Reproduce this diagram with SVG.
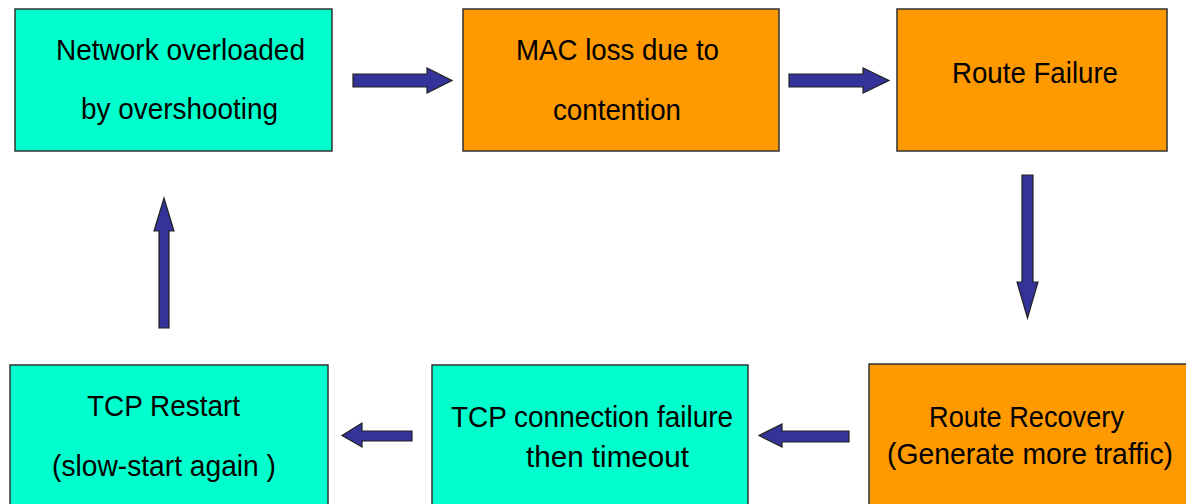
<svg xmlns="http://www.w3.org/2000/svg" width="1186" height="504" viewBox="0 0 1186 504">
<style>
.box{stroke:#333;stroke-width:1.5}
.cyan{fill:#00ffcc}
.orange{fill:#ff9900}
.t{font-family:"Liberation Sans",Arial,sans-serif;font-size:30px;fill:#000}
.arr{fill:#333399;stroke:#222;stroke-width:1.2;stroke-linejoin:miter}
</style>
<rect width="1186" height="504" fill="#fff"/>
<g id="n1">
<rect class="box cyan" x="15" y="9" width="317" height="142"/>
<text class="t" x="56" y="60" textLength="249" lengthAdjust="spacingAndGlyphs">Network overloaded</text>
<text class="t" x="81" y="119" textLength="197" lengthAdjust="spacingAndGlyphs">by overshooting</text>
</g>
<g id="n2">
<rect class="box orange" x="463" y="9" width="316" height="142"/>
<text class="t" x="516" y="60" textLength="203" lengthAdjust="spacingAndGlyphs">MAC loss due to</text>
<text class="t" x="553" y="120" textLength="128" lengthAdjust="spacingAndGlyphs">contention</text>
</g>
<g id="n3">
<rect class="box orange" x="897" y="9" width="270" height="142"/>
<text class="t" x="952" y="83" textLength="166" lengthAdjust="spacingAndGlyphs">Route Failure</text>
</g>
<g id="n4">
<rect class="box orange" x="869" y="364" width="330" height="150"/>
<text class="t" x="929" y="427" textLength="195" lengthAdjust="spacingAndGlyphs">Route Recovery</text>
<text class="t" x="887" y="464" textLength="286" lengthAdjust="spacingAndGlyphs">(Generate more traffic)</text>
</g>
<g id="n5">
<rect class="box cyan" x="432" y="365" width="316" height="150"/>
<text class="t" x="451" y="427" textLength="282" lengthAdjust="spacingAndGlyphs">TCP connection failure</text>
<text class="t" x="526" y="467" textLength="163" lengthAdjust="spacingAndGlyphs">then timeout</text>
</g>
<g id="n6">
<rect class="box cyan" x="10" y="365" width="318" height="150"/>
<text class="t" x="87" y="416" textLength="153" lengthAdjust="spacingAndGlyphs">TCP Restart</text>
<text class="t" x="52" y="476" textLength="224" lengthAdjust="spacingAndGlyphs">(slow-start again )</text>
</g>
<g id="connectors">
<polygon class="arr" points="353,74 427,74 427,68 452,80.5 427,93 427,87 353,87"/>
<polygon class="arr" points="789,74 863,74 863,68 889,80.5 863,93 863,87 789,87"/>
<polygon class="arr" points="1022,175 1033,175 1033,282 1038,282 1027.5,318 1017,282 1022,282"/>
<polygon class="arr" points="849,431 782,431 782,424 759,435.5 782,447 782,442 849,442"/>
<polygon class="arr" points="412,431 362,431 362,423 342,435.5 362,447 362,441 412,441"/>
<polygon class="arr" points="159,328 159,231 154,231 164,198 174,231 169,231 169,328"/>
</g>
</svg>
